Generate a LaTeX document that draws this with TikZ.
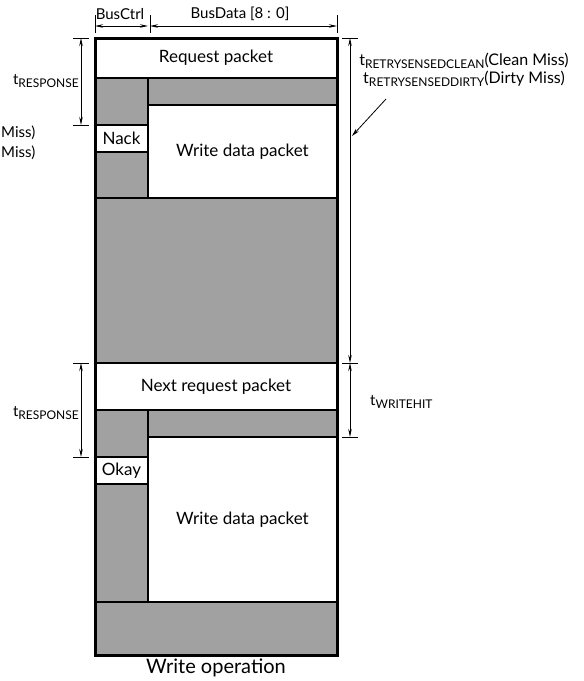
\documentclass[tikz,border=0pt]{standalone}
\usepackage{fontspec}
\setmainfont{Lato}
\usetikzlibrary{arrows.meta}
\definecolor{IdleGray}{gray}{0.63}
\newcommand{\tsub}[1]{t\raisebox{-0.35ex}{\fontsize{12}{13}\selectfont #1}}

\begin{document}
\begin{tikzpicture}[x=1pt, y=-1pt,
    pkt/.style={draw, line width=1.9pt, anchor=north west, inner sep=0pt, outer sep=0pt, font=\fontsize{17}{20}\selectfont},
    idlebox/.style={pkt, fill=IdleGray},
    dimline/.style={line width=0.8pt, <->, >={Stealth[length=8pt, width=3.5pt]}},
    lead/.style={line width=0.8pt, ->, >={Stealth[length=8pt, width=4pt]}},
    tick/.style={line width=0.9pt},
    lbl/.style={font=\fontsize{15}{17}\selectfont, inner sep=1pt}]
    \useasboundingbox (0,0) rectangle (584,681);
    % first transaction (miss)
    \node (Req) [pkt, minimum width=242pt, minimum height=40pt] at (95,38) {Request packet};
    \node (StripA) [idlebox, minimum width=189pt, minimum height=27pt] at (148,78) {};
    \node (CtrlA) [idlebox, minimum width=53pt, minimum height=47pt] at (95,78) {};
    \node (Nack) [pkt, minimum width=53pt, minimum height=27pt] at (95,125) {Nack};
    \node (CtrlB) [idlebox, minimum width=53pt, minimum height=46pt] at (95,152) {};
    \node (DataA) [pkt, minimum width=189pt, minimum height=93pt] at (148,105) {Write data packet};
    \node (Gap) [idlebox, minimum width=242pt, minimum height=165pt] at (95,198) {};
    % second transaction (hit)
    \node (NextReq) [pkt, minimum width=242pt, minimum height=47pt] at (95,363) {Next request packet};
    \node (StripB) [idlebox, minimum width=189pt, minimum height=27pt] at (148,410) {};
    \node (CtrlC) [idlebox, minimum width=53pt, minimum height=47pt] at (95,410) {};
    \node (Okay) [pkt, minimum width=53pt, minimum height=27pt] at (95,457) {Okay};
    \node (CtrlD) [idlebox, minimum width=53pt, minimum height=118pt] at (95,484) {};
    \node (DataB) [pkt, minimum width=189pt, minimum height=165pt] at (148,437) {Write data packet};
    \node (Tail) [idlebox, minimum width=242pt, minimum height=53pt] at (95,602) {};
    \draw [line width=3pt] (Req.north west) rectangle (Tail.south east);
    \node (Caption) [font=\fontsize{20}{24}\selectfont] at (216,668) {Write operation};

    % bus widths
    \node (CtrlLbl) [lbl] at (120,14) {BusCtrl};
    \node (DataLbl) [lbl] at (240,14) {BusData [8 : 0]};
    \coordinate (CtrlL) at (95,26);
    \coordinate (CtrlR) at (148,26);
    \coordinate (DataL) at (150,26);
    \coordinate (DataR) at (337,26);
    \foreach \c in {CtrlL, DataL, DataR}
        \draw [tick] ([yshift=11pt]\c) -- ([yshift=-7pt]\c);
    \draw [dimline] (CtrlL) -- (CtrlR);
    \draw [dimline] (DataL) -- (DataR);

    % response times on the left
    \coordinate (RespA1) at (81,38);
    \coordinate (RespA2) at (81,125);
    \coordinate (RespB1) at (81,363);
    \coordinate (RespB2) at (81,457);
    \foreach \c in {RespA1, RespA2, RespB1, RespB2}
        \draw [tick] ([xshift=-8pt]\c) -- ([xshift=8pt]\c);
    \draw [dimline] (RespA1) -- (RespA2);
    \draw [dimline] (RespB1) -- (RespB2);
    \node (RespLblA) [lbl, anchor=east] at (80,81) {\tsub{RESPONSE}};
    \node (RespLblB) [lbl, anchor=east] at (80,413) {\tsub{RESPONSE}};
    \node (MissA) [lbl, anchor=west] at (0,133) {Miss)};
    \node (MissB) [lbl, anchor=west] at (0,153) {Miss)};

    % retry and write hit on the right
    \coordinate (RetryTop) at (350,38);
    \coordinate (RetryBot) at (350,363);
    \coordinate (HitBot) at (350,437);
    \foreach \c in {RetryTop, RetryBot, HitBot}
        \draw [tick] ([xshift=-8pt]\c) -- ([xshift=8pt]\c);
    \draw [dimline] (RetryTop) -- (RetryBot);
    \draw [dimline] (RetryBot) -- (HitBot);
    \node (RetryLbl) [lbl, font=\fontsize{16}{18}\selectfont, align=center] at (464,70) {\tsub{RETRYSENSEDCLEAN}(Clean Miss)\\ \tsub{RETRYSENSEDDIRTY}(Dirty Miss)};
    \coordinate (LeadA) at (386,99);
    \coordinate (LeadB) at (352,136);
    \draw [lead] (LeadA) -- (LeadB);
    \node (HitLbl) [lbl, anchor=west] at (369,402) {\tsub{WRITEHIT}};
\end{tikzpicture}
\end{document}
